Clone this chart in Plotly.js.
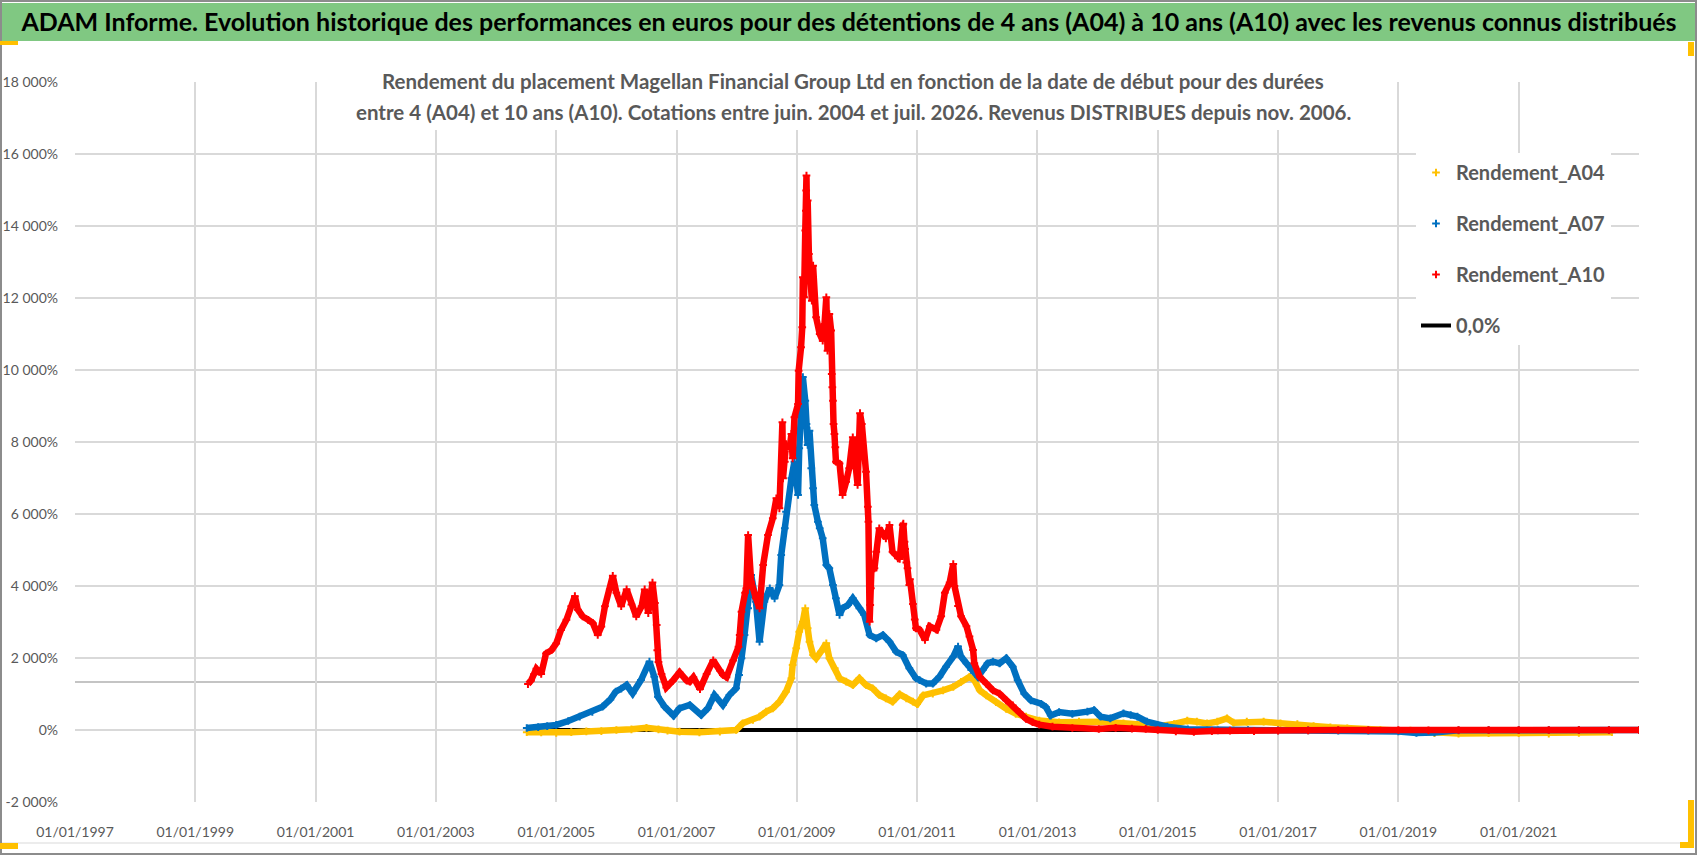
<!DOCTYPE html>
<html>
<head>
<meta charset="utf-8">
<script src="https://cdn.plot.ly/plotly-3.0.1.min.js"></script>
<style>html,body{margin:0;padding:0;background:#fff;}#chart{width:1698px;height:856px;}</style>
</head>
<body>
<div id="chart"></div>
<script>
// ---------------- DATA ----------------
const titleText = "ADAM Informe. Evolution historique des performances en euros pour des détentions de 4 ans (A04) à 10 ans (A10) avec les revenus connus distribués";
const subtitleLine1 = "Rendement du placement Magellan Financial Group Ltd en fonction de la date de début pour des durées";
const subtitleLine2 = "entre 4 (A04) et 10 ans (A10). Cotations entre juin. 2004 et juil. 2026. Revenus DISTRIBUES depuis nov. 2006.";

const seriesNames = ["Rendement_A04", "Rendement_A07", "Rendement_A10", "0,0%"];

const xTickVals = [1997, 1999, 2001, 2003, 2005, 2007, 2009, 2011, 2013, 2015, 2017, 2019, 2021];
const xTickText = ["01/01/1997","01/01/1999","01/01/2001","01/01/2003","01/01/2005","01/01/2007","01/01/2009","01/01/2011","01/01/2013","01/01/2015","01/01/2017","01/01/2019","01/01/2021"];
const yTickVals = [-2000, 0, 2000, 4000, 6000, 8000, 10000, 12000, 14000, 16000, 18000];
const yTickText = ["-2 000%", "0%", "2 000%", "4 000%", "6 000%", "8 000%", "10 000%", "12 000%", "14 000%", "16 000%", "18 000%"];
const xRange = [1997, 2023];
const yRange = [-2000, 18000];

// start date (decimal year) and return in %
const datesA04 = [2004.51,2004.75,2005.00,2005.25,2005.50,2005.75,2006.00,2006.25,2006.50,2006.70,2006.85,2007.05,2007.38,2007.72,2007.99,2008.10,2008.27,2008.38,2008.49,2008.60,2008.71,2008.82,2008.91,2008.93,2008.99,2009.04,2009.10,2009.14,2009.18,2009.21,2009.27,2009.32,2009.40,2009.49,2009.54,2009.63,2009.71,2009.82,2009.93,2010.04,2010.15,2010.26,2010.37,2010.48,2010.59,2010.71,2010.82,2010.93,2011.00,2011.10,2011.26,2011.43,2011.60,2011.73,2011.87,2011.95,2012.04,2012.15,2012.31,2012.48,2012.64,2012.81,2013.03,2013.36,2013.69,2014.05,2014.43,2014.82,2015.04,2015.27,2015.49,2015.65,2015.82,2015.99,2016.15,2016.26,2016.48,2016.76,2017.04,2017.32,2017.59,2017.87,2018.15,2018.70,2019.20,2019.60,2020.00,2020.50,2021.00,2021.50,2022.00,2022.55];
const valuesA04 = [-60,-70,-80,-60,-40,-30,0,20,60,20,-20,-46,-65,-46,0,185,278,370,509,602,787,1065,1435,1806,2269,2732,3010,3380,2824,2454,2084,1991,2176,2408,1991,1713,1435,1343,1250,1435,1250,1158,972,880,787,990,880,787,720,963,1010,1103,1197,1337,1477,1384,1103,963,776,589,449,374,262,215,230,231,185,139,111,167,259,231,185,231,324,204,231,231,185,167,111,74,46,0,-20,-90,-100,-90,-90,-100,-80,-60];

const datesA07 = [2004.51,2004.70,2004.85,2005.00,2005.20,2005.39,2005.60,2005.77,2005.90,2005.99,2006.08,2006.17,2006.27,2006.41,2006.55,2006.63,2006.69,2006.80,2006.95,2007.05,2007.22,2007.41,2007.52,2007.63,2007.77,2007.88,2007.99,2008.04,2008.08,2008.13,2008.19,2008.24,2008.32,2008.38,2008.46,2008.55,2008.63,2008.71,2008.74,2008.80,2008.82,2008.91,2008.96,2009.02,2009.04,2009.08,2009.10,2009.14,2009.16,2009.18,2009.21,2009.24,2009.27,2009.29,2009.35,2009.38,2009.43,2009.49,2009.54,2009.60,2009.65,2009.71,2009.76,2009.85,2009.93,2010.04,2010.12,2010.21,2010.32,2010.43,2010.54,2010.65,2010.76,2010.87,2010.98,2011.04,2011.15,2011.26,2011.37,2011.48,2011.60,2011.68,2011.73,2011.82,2011.90,2012.01,2012.09,2012.17,2012.26,2012.37,2012.48,2012.59,2012.67,2012.78,2012.89,2013.06,2013.14,2013.22,2013.36,2013.58,2013.83,2013.94,2014.05,2014.21,2014.43,2014.55,2014.66,2014.82,2014.99,2015.16,2015.50,2016.00,2016.50,2017.00,2017.50,2018.00,2018.50,2019.00,2019.30,2019.60,2020.00,2020.50,2021.00,2021.50,2022.00,2022.50,2023.00];
const valuesA07 = [56,80,110,140,250,370,500,648,850,1065,1150,1250,1018,1389,1898,1481,925,648,400,602,695,417,602,972,695,972,1158,1528,1991,2639,3380,4306,3565,2454,3565,3935,3658,4028,4861,5602,6065,6991,7454,6528,7825,8800,9806,9149,8501,7917,8315,7269,6714,6251,5788,5602,5325,4584,4491,4028,3658,3195,3380,3473,3658,3380,3195,2639,2547,2639,2454,2176,2084,1713,1435,1384,1290,1290,1477,1758,2038,2319,2038,1851,1664,1477,1664,1851,1898,1851,1992,1758,1384,1010,823,729,636,402,496,449,509,555,370,324,463,417,370,231,139,93,20,-10,0,-10,-10,-20,-20,-40,-80,-70,-10,0,0,0,0,0,0];

const datesA10 = [2004.53,2004.58,2004.63,2004.67,2004.75,2004.83,2004.92,2005.00,2005.08,2005.17,2005.25,2005.31,2005.36,2005.44,2005.53,2005.61,2005.69,2005.75,2005.81,2005.89,2005.94,2006.00,2006.08,2006.17,2006.25,2006.33,2006.42,2006.47,2006.53,2006.60,2006.64,2006.67,2006.68,2006.70,2006.75,2006.83,2006.94,2007.05,2007.17,2007.22,2007.28,2007.39,2007.50,2007.61,2007.72,2007.77,2007.83,2007.94,2008.03,2008.05,2008.08,2008.14,2008.16,2008.19,2008.24,2008.32,2008.38,2008.44,2008.52,2008.60,2008.66,2008.71,2008.76,2008.77,2008.80,2008.82,2008.88,2008.91,2008.93,2008.96,2009.02,2009.03,2009.07,2009.09,2009.10,2009.12,2009.14,2009.15,2009.155,2009.16,2009.17,2009.18,2009.20,2009.24,2009.25,2009.27,2009.32,2009.38,2009.43,2009.46,2009.49,2009.51,2009.54,2009.57,2009.58,2009.59,2009.60,2009.61,2009.625,2009.64,2009.65,2009.71,2009.76,2009.82,2009.87,2009.93,2009.96,2010.01,2010.05,2010.08,2010.15,2010.18,2010.19,2010.21,2010.22,2010.23,2010.24,2010.29,2010.32,2010.37,2010.48,2010.54,2010.59,2010.68,2010.71,2010.76,2010.77,2010.79,2010.80,2010.82,2010.84,2010.87,2010.88,2010.93,2010.96,2010.98,2011.04,2011.13,2011.21,2011.32,2011.40,2011.46,2011.54,2011.60,2011.62,2011.68,2011.73,2011.82,2011.87,2011.93,2011.95,2012.04,2012.15,2012.26,2012.37,2012.48,2012.59,2012.70,2012.81,2012.92,2013.03,2013.25,2013.58,2014.02,2014.30,2014.57,2014.80,2015.00,2015.30,2015.60,2015.90,2016.20,2016.60,2017.00,2017.50,2018.00,2018.50,2019.00,2019.50,2020.00,2020.50,2021.00,2021.50,2022.00,2022.50,2023.00];
const valuesA10 = [1277,1371,1550,1700,1559,2122,2216,2404,2779,3061,3437,3718,3343,3155,3061,2967,2639,2873,3437,3906,4282,3812,3437,3906,3484,3155,3437,3906,3249,4094,3531,2920,2216,1887,1559,1183,1371,1600,1371,1343,1465,1136,1559,1934,1653,1528,1465,1934,2310,2639,3287,3812,3935,5417,4120,3657,3380,4583,5417,5880,6436,6158,8547,6991,7454,7945,7825,8223,7547,8686,9056,9982,10630,11186,12575,12019,13872,14427,14983,15400,14149,14705,13223,12482,11927,12899,11464,11001,10815,11279,12019,10538,11556,11094,9890,9519,9149,8501,8223,7852,7454,7400,6529,6899,7269,8130,7640,6806,8800,8500,7176,6204,5788,3010,3473,3935,4491,4491,4954,5602,5325,5695,4954,4769,4750,5695,5732,5232,5030,4656,4491,4028,4189,3500,3067,2824,2786,2506,2880,2786,3160,3815,4095,4610,4002,3441,3160,2880,2599,2225,1851,1477,1290,1103,1010,823,683,496,309,215,150,93,56,28,60,40,30,0,-40,-50,-30,-20,-30,-20,-10,0,0,0,-10,0,0,0,0,0,0,0];

const datesZero = [2004.53, 2015.00];
const valuesZero = [0, 0];

const grayLevel = 1333; // horizontal grey line drawn across the plot

// ---------------- LAYOUT HELPERS ----------------
const WIDTH = 1698, HEIGHT = 856;
const M = {l: 75, r: 59, t: 82, b: 54};
const PW = WIDTH - M.l - M.r, PH = HEIGHT - M.t - M.b;
const px = x => (x - M.l) / PW;
const py = y => (HEIGHT - M.b - y) / PH;

const FONT = "Lato, 'Liberation Sans', sans-serif";
const colA04 = '#ffc000', colA07 = '#0070c0', colA10 = '#ff0000';
const TXT = '#595959';

function band(x, y, color, group) {
  return {x: x, y: y, type: 'scatter', mode: 'lines', legendgroup: group, showlegend: false,
          hoverinfo: 'skip', line: {color: color, width: 6.5}};
}
function marks(x, y, color, name, group, rank) {
  return {x: x, y: y, type: 'scatter', mode: 'markers', name: name, legendgroup: group, legendrank: rank,
          marker: {symbol: 'cross-thin', size: 5.5, color: color, line: {color: color, width: 2}}};
}

const traces = [
  {x: datesZero, y: valuesZero, type: 'scatter', mode: 'lines', name: seriesNames[3], legendgroup: 'g4',
   legendrank: 4, line: {color: '#000000', width: 4}},
  band(datesA04, valuesA04, colA04, 'g1'),
  marks(datesA04, valuesA04, colA04, seriesNames[0], 'g1', 1),
  band(datesA07, valuesA07, colA07, 'g2'),
  marks(datesA07, valuesA07, colA07, seriesNames[1], 'g2', 2),
  band(datesA10, valuesA10, colA10, 'g3'),
  marks(datesA10, valuesA10, colA10, seriesNames[2], 'g3', 3)
];

const shapes = [
  {type: 'rect', xref: 'paper', yref: 'paper', x0: px(2), x1: px(1695), y0: py(41), y1: py(3),
   fillcolor: '#80c882', line: {width: 0}, layer: 'below'},
  {type: 'rect', xref: 'paper', yref: 'paper', x0: px(1), x1: px(1696), y0: py(854), y1: py(1),
   fillcolor: 'rgba(0,0,0,0)', line: {color: '#8c8c8c', width: 2}, layer: 'below'},
  {type: 'line', xref: 'paper', yref: 'paper', x0: px(2), x1: px(1694), y0: py(843), y1: py(843),
   line: {color: '#d9d9d9', width: 1}, layer: 'below'},
  {type: 'line', xref: 'paper', yref: 'y', x0: 0, x1: 1, y0: grayLevel, y1: grayLevel,
   line: {color: '#c4c4c4', width: 2}, layer: 'below'},
  {type: 'rect', xref: 'paper', yref: 'paper', x0: px(350), x1: px(1356), y0: py(130), y1: py(56),
   fillcolor: '#ffffff', line: {width: 0}, layer: 'above'},
  {type: 'rect', xref: 'paper', yref: 'paper', x0: px(0), x1: px(18), y0: py(45), y1: py(41),
   fillcolor: '#ffc000', line: {width: 0}, layer: 'above'},
  {type: 'rect', xref: 'paper', yref: 'paper', x0: px(1688), x1: px(1694), y0: py(56), y1: py(42),
   fillcolor: '#ffc000', line: {width: 0}, layer: 'above'},
  {type: 'rect', xref: 'paper', yref: 'paper', x0: px(0), x1: px(18), y0: py(849), y1: py(843),
   fillcolor: '#ffc000', line: {width: 0}, layer: 'above'},
  {type: 'rect', xref: 'paper', yref: 'paper', x0: px(1688), x1: px(1694), y0: py(848), y1: py(800),
   fillcolor: '#ffc000', line: {width: 0}, layer: 'above'},
  {type: 'rect', xref: 'paper', yref: 'paper', x0: px(1680), x1: px(1694), y0: py(848), y1: py(842),
   fillcolor: '#ffc000', line: {width: 0}, layer: 'above'}
];

const annotations = [
  {xref: 'paper', yref: 'paper', x: px(853), y: py(81), xanchor: 'center', yanchor: 'middle', showarrow: false,
   text: '<b>' + subtitleLine1 + '</b>', font: {family: FONT, size: 20.5, color: TXT}},
  {xref: 'paper', yref: 'paper', x: px(853), y: py(112), xanchor: 'center', yanchor: 'middle', showarrow: false,
   text: '<b>' + subtitleLine2 + '</b>', font: {family: FONT, size: 20.5, color: TXT}}
];

const layout = {
  width: WIDTH, height: HEIGHT,
  margin: M,
  paper_bgcolor: '#ffffff', plot_bgcolor: '#ffffff',
  title: {text: '<b>' + titleText + '</b>', font: {family: FONT, size: 25, color: '#000000'},
          x: 0.5, xref: 'container', xanchor: 'center', y: 1 - 22 / HEIGHT, yref: 'container', yanchor: 'middle'},
  xaxis: {range: xRange, tickmode: 'array', tickvals: xTickVals, ticktext: xTickText,
          showgrid: true, gridcolor: '#d9d9d9', gridwidth: 2, zeroline: false, showline: false,
          ticks: '', ticklabelstandoff: 20, tickfont: {family: FONT, size: 14, color: TXT}, fixedrange: true},
  yaxis: {range: yRange, tickmode: 'array', tickvals: yTickVals, ticktext: yTickText,
          showgrid: true, gridcolor: '#d9d9d9', gridwidth: 2, zeroline: false, showline: false,
          ticks: '', ticklabelstandoff: 16, tickfont: {family: FONT, size: 14, color: TXT}, fixedrange: true},
  showlegend: true,
  legend: {x: px(1416), y: py(153), xanchor: 'left', yanchor: 'top', bgcolor: '#ffffff', borderwidth: 0,
           font: {family: FONT, size: 20, color: TXT, weight: 'bold'}, tracegroupgap: 22, traceorder: 'grouped'},
  shapes: shapes,
  annotations: annotations
};

Plotly.newPlot('chart', traces, layout, {displayModeBar: false, staticPlot: true});
</script>
</body>
</html>
